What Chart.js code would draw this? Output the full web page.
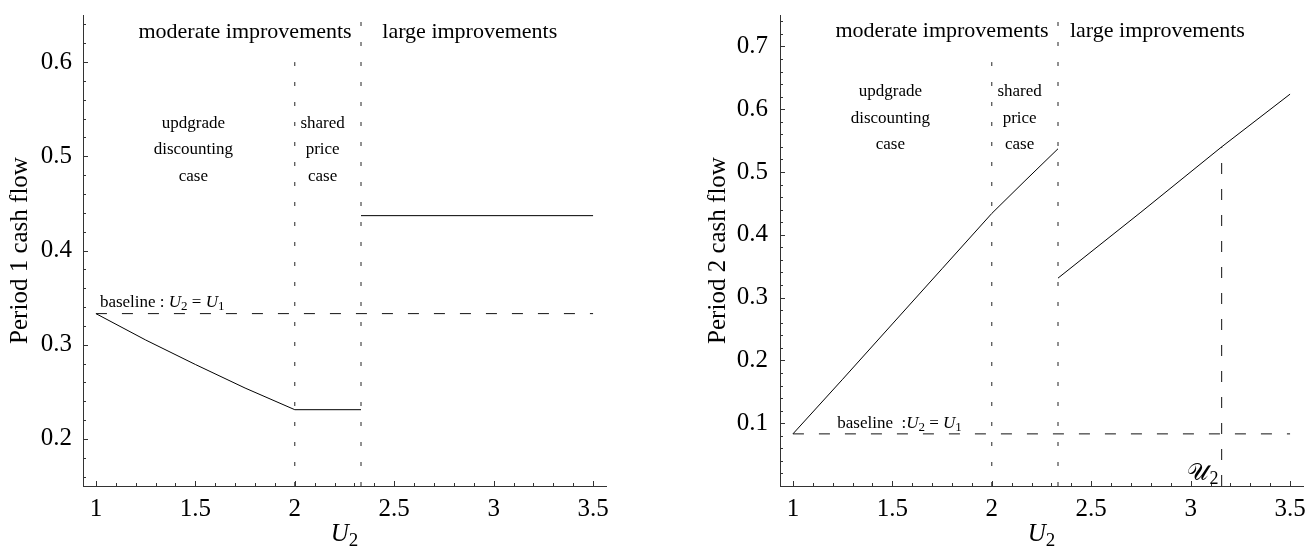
<!DOCTYPE html>
<html>
<head>
<meta charset="utf-8">
<script src="https://cdn.jsdelivr.net/npm/chart.js@4.4.0/dist/chart.umd.min.js"></script>
<style>
  html, body { margin: 0; padding: 0; background: #fff; }
  body { width: 1309px; height: 550px; position: relative; overflow: hidden; }
  .panel { position: absolute; top: 0; height: 550px; }
  #left { left: 0; width: 640px; }
  #right { left: 640px; width: 669px; }
</style>
</head>
<body>
<div class="panel" id="left"><canvas id="chart1"></canvas></div>
<div class="panel" id="right"><canvas id="chart2"></canvas></div>
<script>
// Period 1 cash flow (left panel)
const p1ModerateU2 = [1, 1.25, 1.5, 1.75, 2, 2.333];
const p1ModerateCash = [0.333, 0.305, 0.279, 0.254, 0.231, 0.231];
const p1LargeU2 = [2.333, 3.5];
const p1LargeCash = [0.437, 0.437];
const p1Baseline = 0.333;
const p1YRange = [0.15, 0.65];
const p1YTicks = [0.2, 0.3, 0.4, 0.5, 0.6];

// Period 2 cash flow (right panel)
const p2ModerateU2 = [1, 1.25, 1.5, 1.75, 2, 2.167, 2.333];
const p2ModerateCash = [0.083, 0.170, 0.258, 0.346, 0.434, 0.486, 0.537];
const p2LargeU2 = [2.333, 2.75, 3.156, 3.5];
const p2LargeCash = [0.331, 0.436, 0.540, 0.624];
const p2Baseline = 0.083;
const p2YRange = [0, 0.75];
const p2YTicks = [0.1, 0.2, 0.3, 0.4, 0.5, 0.6, 0.7];
const thresholdU2 = 3.156;      // where the script U2 marker sits
const thresholdCash = 0.540;

// shared x axis
const u2Range = [0.935, 3.565];
const u2Span = [1, 3.5];
const xTicks = [1, 1.5, 2, 2.5, 3, 3.5];
const regionBounds = [2, 2.333];

const FONT = "'Liberation Serif', 'Times New Roman', serif";
Chart.defaults.font.family = FONT;
Chart.defaults.color = '#000';

function pts(xs, ys) {
  return xs.map((x, i) => ({ x: x, y: ys[i] }));
}

function lineSet(data, dash, color) {
  return {
    data: data,
    borderColor: color || '#000',
    borderWidth: 1,
    borderDash: dash || [],
    pointRadius: 0,
    tension: 0,
    fill: false
  };
}

// ticks pointing into the plot, Mathematica style, with minor ones
const inwardTicks = {
  id: 'inwardTicks',
  afterDraw(chart, args, o) {
    const { ctx, chartArea: a, scales: { x, y } } = chart;
    ctx.save();
    ctx.strokeStyle = '#333';
    ctx.lineWidth = 1;
    ctx.beginPath();
    for (let k = Math.round(u2Span[0] * 10); k <= Math.round(u2Span[1] * 10); k++) {
      const v = k / 10;
      const px = Math.round(x.getPixelForValue(v)) + 0.5;
      const len = xTicks.some(t => Math.abs(t - v) < 1e-6) ? 5 : 3;
      ctx.moveTo(px, a.bottom);
      ctx.lineTo(px, a.bottom - len);
    }
    for (let k = Math.ceil(o.yMin * 50); k <= Math.floor(o.yMax * 50); k++) {
      const v = k / 50;
      const py = Math.round(y.getPixelForValue(v)) + 0.5;
      const len = o.yTicks.some(t => Math.abs(t - v) < 1e-6) ? 5 : 3;
      ctx.moveTo(a.left, py);
      ctx.lineTo(a.left + len, py);
    }
    ctx.stroke();
    ctx.restore();
  }
};

// draws runs of text: [text, 'r' | 'i' | 's'] where s is a subscript
function partFont(kind, size) {
  if (kind === 'i') return 'italic ' + size + 'px ' + FONT;
  if (kind === 's') return Math.round(size * 0.76) + 'px ' + FONT;
  return size + 'px ' + FONT;
}

function richWidth(ctx, parts, size) {
  let w = 0;
  parts.forEach(p => {
    ctx.font = partFont(p[1], size);
    w += ctx.measureText(p[0]).width;
  });
  return w;
}

function drawRich(ctx, parts, x, y, size, align) {
  let cx = x;
  const w = richWidth(ctx, parts, size);
  if (align === 'center') cx = x - w / 2;
  if (align === 'right') cx = x - w;
  ctx.textAlign = 'left';
  ctx.textBaseline = 'alphabetic';
  parts.forEach(p => {
    ctx.font = partFont(p[1], size);
    const dy = p[1] === 's' ? size * 0.18 : 0;
    ctx.fillText(p[0], cx, y + dy);
    cx += ctx.measureText(p[0]).width;
  });
}

const notes = {
  id: 'notes',
  afterDraw(chart, args, o) {
    const { ctx, chartArea: a, scales: { x, y } } = chart;
    ctx.save();
    ctx.fillStyle = '#000';
    o.blocks.forEach(b => {
      ctx.font = b.size + 'px ' + FONT;
      ctx.textAlign = 'center';
      ctx.textBaseline = 'middle';
      const px = x.getPixelForValue(b.x);
      const py = y.getPixelForValue(b.y);
      b.lines.forEach((t, i) => ctx.fillText(t, px, py + i * 26.5));
    });
    o.rich.forEach(r => {
      drawRich(ctx, r.parts, x.getPixelForValue(r.x), y.getPixelForValue(r.y), r.size, r.align);
    });
    // x axis title U2
    drawRich(ctx, [['U', 'i'], ['2', 's']], (a.left + a.right) / 2, 541, 25, 'center');
    ctx.restore();
  }
};

function makeChart(id, cfg) {
  return new Chart(document.getElementById(id), {
    type: 'line',
    data: { datasets: cfg.datasets },
    options: {
      responsive: true,
      maintainAspectRatio: false,
      animation: false,
      layout: { padding: cfg.padding },
      plugins: {
        legend: { display: false },
        tooltip: { enabled: false },
        inwardTicks: { yMin: cfg.yRange[0], yMax: cfg.yRange[1], yTicks: cfg.yTicks },
        notes: { blocks: cfg.blocks, rich: cfg.rich }
      },
      scales: {
        x: {
          type: 'linear',
          min: u2Range[0],
          max: u2Range[1],
          afterBuildTicks: s => { s.ticks = xTicks.map(v => ({ value: v })); },
          afterFit: s => { s.height = 64; s.paddingLeft = 0; s.paddingRight = 0; },
          grid: { display: false, drawTicks: false },
          border: { display: true, color: '#333', width: 1 },
          ticks: {
            padding: 8,
            maxRotation: 0,
            font: { size: 25 },
            callback: v => String(v)
          }
        },
        y: {
          type: 'linear',
          min: cfg.yRange[0],
          max: cfg.yRange[1],
          afterBuildTicks: s => { s.ticks = cfg.yTicks.map(v => ({ value: v })); },
          afterFit: s => { s.width = cfg.yWidth; s.paddingTop = 0; s.paddingBottom = 0; },
          grid: { display: false, drawTicks: false },
          border: { display: true, color: '#333', width: 1 },
          ticks: {
            padding: cfg.yPad,
            font: { size: 25 },
            callback: v => v.toFixed(1)
          },
          title: {
            display: true,
            text: cfg.yTitle,
            font: { size: 25 },
            padding: { top: cfg.titlePad, bottom: 0 }
          }
        }
      }
    },
    plugins: [inwardTicks, notes]
  });
}

const dotted = [4, 16];
const dashed = [11, 15];

// left: period 1
makeChart('chart1', {
  padding: { top: 15, right: 34, bottom: 0, left: 0 },
  yRange: p1YRange,
  yTicks: p1YTicks,
  yWidth: 83,
  yPad: 11,
  titlePad: 5,
  yTitle: 'Period 1 cash flow',
  datasets: [
    lineSet(pts([regionBounds[0], regionBounds[0]], [p1YRange[0], 0.6]), dotted, '#222'),
    lineSet(pts([regionBounds[1], regionBounds[1]], [p1YRange[0], p1YRange[1]]), dotted, '#222'),
    lineSet(pts(u2Span, [p1Baseline, p1Baseline]), dashed, '#111'),
    lineSet(pts(p1ModerateU2, p1ModerateCash)),
    lineSet(pts(p1LargeU2, p1LargeCash))
  ],
  blocks: [
    { lines: ['moderate improvements'], x: 1.75, y: 0.632, size: 22 },
    { lines: ['large improvements'], x: 2.88, y: 0.632, size: 22 },
    { lines: ['updgrade', 'discounting', 'case'], x: 1.49, y: 0.535, size: 17 },
    { lines: ['shared', 'price', 'case'], x: 2.14, y: 0.535, size: 17 }
  ],
  rich: [
    { parts: [['baseline : ', 'r'], ['U', 'i'], ['2', 's'], [' = ', 'r'], ['U', 'i'], ['1', 's']],
      x: 1.02, y: 0.340, size: 17, align: 'left' }
  ]
});

// right: period 2
makeChart('chart2', {
  padding: { top: 15, right: 6, bottom: 0, left: 0 },
  yRange: p2YRange,
  yTicks: p2YTicks,
  yWidth: 140,
  yPad: 12,
  titlePad: 63,
  yTitle: 'Period 2 cash flow',
  datasets: [
    lineSet(pts([regionBounds[0], regionBounds[0]], [p2YRange[0], 0.675]), dotted, '#222'),
    lineSet(pts([regionBounds[1], regionBounds[1]], [p2YRange[0], p2YRange[1]]), dotted, '#222'),
    lineSet(pts(u2Span, [p2Baseline, p2Baseline]), dashed, '#111'),
    lineSet(pts([thresholdU2, thresholdU2], [p2YRange[0], thresholdCash]), dashed, '#111'),
    lineSet(pts(p2ModerateU2, p2ModerateCash)),
    lineSet(pts(p2LargeU2, p2LargeCash))
  ],
  blocks: [
    { lines: ['moderate improvements'], x: 1.75, y: 0.724, size: 22 },
    { lines: ['large improvements'], x: 2.833, y: 0.724, size: 22 },
    { lines: ['updgrade', 'discounting', 'case'], x: 1.49, y: 0.628, size: 17 },
    { lines: ['shared', 'price', 'case'], x: 2.14, y: 0.628, size: 17 }
  ],
  rich: [
    { parts: [['baseline  :', 'r'], ['U', 'i'], ['2', 's'], [' = ', 'r'], ['U', 'i'], ['1', 's']],
      x: 1.223, y: 0.092, size: 17, align: 'left' },
    { parts: [['\u{1D4B0}', 'r'], ['2', 's']], x: 3.14, y: 0.0096, size: 24, align: 'right' }
  ]
});
</script>
</body>
</html>
